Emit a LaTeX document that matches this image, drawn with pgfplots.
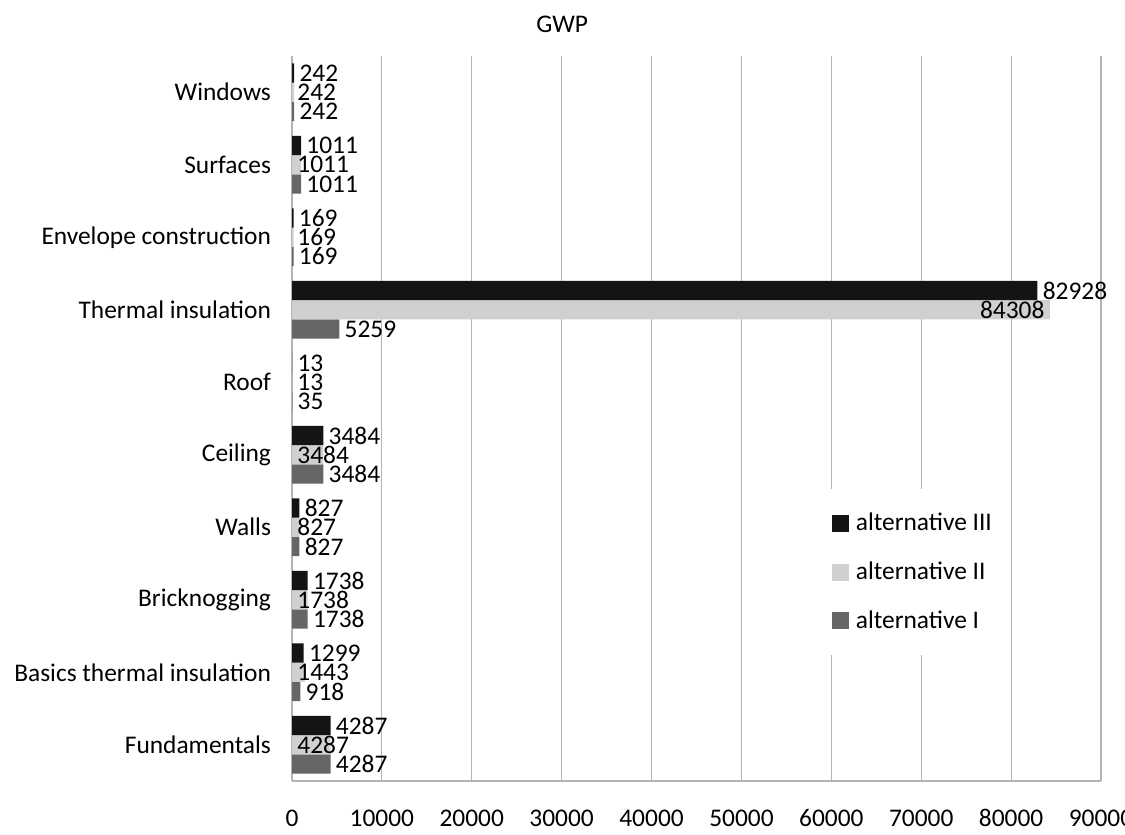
\documentclass[border=0pt]{standalone}
\usepackage{pgfplots}
\pgfplotsset{compat=1.18}
\usepackage{pgfplotstable}
\usepackage{fontspec}
\setmainfont{Carlito}
\usetikzlibrary{calc}
\definecolor{altI}{HTML}{666666}
\definecolor{altII}{HTML}{D0D0D0}
\definecolor{altIII}{HTML}{141414}
\definecolor{gridc}{HTML}{B4B4B4}

\pgfplotstableread{
y a1 a2 a3
0 4287 4287 4287
1 918 1443 1299
2 1738 1738 1738
3 827 827 827
4 3484 3484 3484
5 35 13 13
6 5259 84308 82928
7 169 169 169
8 1011 1011 1011
9 242 242 242
}\data

% labels of alternative II placed at the base of the bar
\pgfplotstableread{
y x v
0 0 4287
1 0 1443
2 0 1738
3 0 827
4 0 3484
5 0 13
7 0 169
8 0 1011
9 0 242
}\labII

% label of alternative II placed at the inner end of the bar
\pgfplotstableread{
y x v
6 84308 84308
}\labIIend

\begin{document}
\begin{tikzpicture}
\begin{axis}[
  scale only axis,
  width=404.5pt, height=362.5pt,
  xmin=0, xmax=90000, ymin=-0.5, ymax=9.5,
  clip=false,
  xtick={0,10000,...,90000}, scaled x ticks=false,
  ytick={0,...,9},
  yticklabels={Fundamentals, Basics thermal insulation, Bricknogging, Walls, Ceiling, Roof, Thermal insulation, Envelope construction, Surfaces, Windows},
  axis x line*=bottom, axis y line*=left,
  axis line style={-, gridc, line width=0.8pt},
  xmajorgrids, grid style={gridc, line width=0.6pt},
  major tick length=0pt,
  tick label style={font=\fontsize{12.7}{14}\selectfont, text=black},
  x tick label style={anchor=north, text height=9pt, text depth=0pt, yshift=-10pt},
  y tick label style={xshift=-7pt},
  /pgf/number format/assume math mode=true,
  /pgf/number format/1000 sep={},
  bar width=9.6pt,
  nodes near coords style={font=\fontsize{12.7}{14}\selectfont, inner sep=2.5pt, text=black},
  legend style={at={(0.652,0.403)}, anchor=north west, draw=none, fill=white,
    font=\fontsize{12.7}{14}\selectfont, row sep=10pt, inner xsep=6pt, inner ysep=10pt},
  legend cell align=left,
  reverse legend,
  legend image code/.code={\fill[#1,draw=none] (0pt,-4.25pt) rectangle (8.5pt,4.25pt);\path (10pt,0pt);},
]
\addplot[xbar, bar shift=-9.6pt, fill=altI, draw=none,
  nodes near coords, point meta=x,
  every node near coord/.append style={anchor=west, yshift=-9.6pt}]
  table[x=a1, y=y]{\data};
\addlegendentry{alternative I}
\addplot[xbar, bar shift=0pt, fill=altII, draw=none]
  table[x=a2, y=y]{\data};
\addlegendentry{alternative II}
\addplot[xbar, bar shift=9.6pt, fill=altIII, draw=none,
  nodes near coords, point meta=x,
  every node near coord/.append style={anchor=west, yshift=9.6pt}]
  table[x=a3, y=y]{\data};
\addlegendentry{alternative III}
\addplot[draw=none, mark=none, forget plot,
  nodes near coords, point meta=explicit,
  every node near coord/.append style={anchor=west}]
  table[x=x, y=y, meta=v]{\labII};
\addplot[draw=none, mark=none, forget plot,
  nodes near coords, point meta=explicit,
  every node near coord/.append style={anchor=east}]
  table[x=x, y=y, meta=v]{\labIIend};
\coordinate (bl) at (rel axis cs:0,0);
\coordinate (tr) at (rel axis cs:1,1);
\node[font=\fontsize{12.7}{14}\selectfont, yshift=16pt] at (rel axis cs:0.334,1) {GWP};
\end{axis}
\pgfresetboundingbox
\path[use as bounding box] ($(bl)+(-146pt,-26.5pt)$) rectangle ($(tr)+(12pt,28pt)$);
\end{tikzpicture}
\end{document}
